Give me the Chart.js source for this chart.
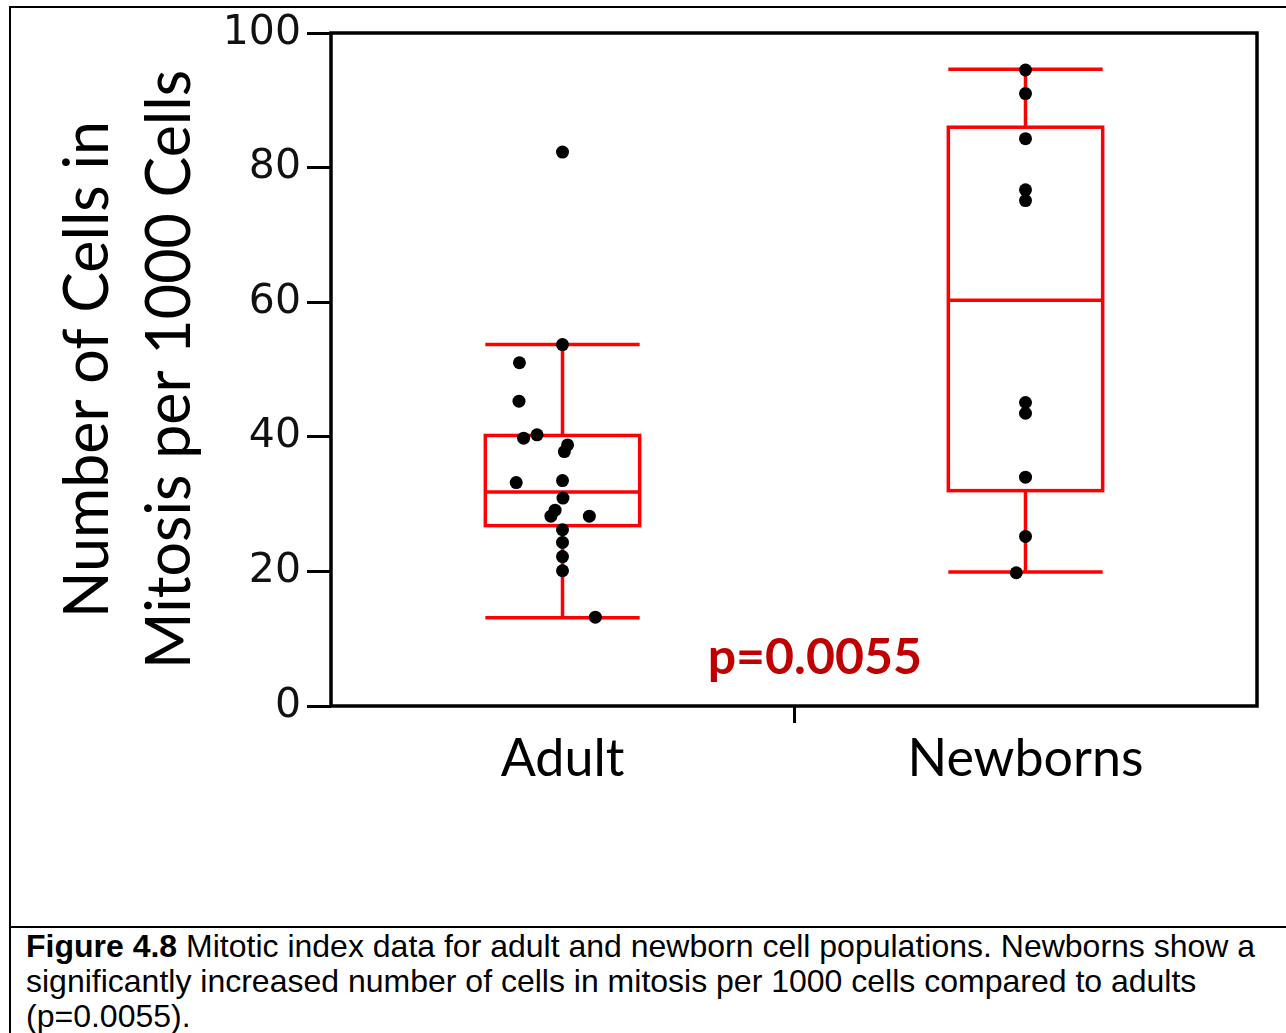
<!DOCTYPE html>
<html lang="en">
<head>
    <meta charset="UTF-8">
    <title>Mitotic index</title>
    <style>
        body {
            margin: 0;
            background-color: #ffffff;
        }

        .figure {
            position: absolute;
            left: 9px;
            top: 6px;
            width: 1277px;
            height: 1027px;
            border-left: 2px solid #000;
            border-top: 2px solid #000;
            overflow: hidden;
        }

        .chart-box {
            position: relative;
            width: 1275px;
            height: 918px;
        }

        .caption {
            border-top: 2px solid #000;
            padding: 1px 0 0 15px;
            font-family: 'Liberation Sans', Arial, sans-serif;
            font-size: 32px;
            line-height: 35px;
            color: #000;
            white-space: nowrap;
        }
    </style>
</head>
<body>
    <div class="figure">
        <div class="chart-box">
            <canvas id="mitosisChart"></canvas>
        </div>
        <div class="caption">
            <b>Figure 4.8</b> Mitotic index data for adult and newborn cell populations. Newborns show a<br>
            significantly increased number of cells in mitosis per 1000 cells compared to adults<br>
            (p=0.0055).
        </div>
    </div>

    <script src="https://cdn.jsdelivr.net/npm/chart.js"></script>
    <script>
        const categories = ['Adult', 'Newborns'];

        // cells in mitosis per 1000 cells, one value per sample
        const adultValues = [82.3, 53.7, 51.0, 45.3, 40.3, 39.8, 38.8, 37.8, 33.5, 33.2, 30.9, 29.1, 28.2, 28.2, 26.2, 24.3, 22.2, 20.1, 13.2];
        const adultJitter = [0, 0, -0.093, -0.094, -0.055, -0.084, 0.011, 0.004, 0, -0.1, 0.001, -0.016, -0.025, 0.058, 0, 0, 0, 0, 0.071];
        const newbornValues = [94.5, 91.0, 84.3, 76.7, 75.1, 45.1, 43.5, 34.0, 25.2, 19.8];
        const newbornJitter = [0, 0, 0, 0, 0, 0, 0, 0, 0, -0.02];

        // box summaries per category
        const boxMin = [13.1, 19.9];
        const boxQ1 = [26.8, 32.0];
        const boxMedian = [31.8, 60.3];
        const boxQ3 = [40.2, 86.0];
        const boxMax = [53.7, 94.6];

        const yTicks = [0, 20, 40, 60, 80, 100];
        const pValueLabel = 'p=0.0055';

        const BOX_HALF = 1 / 6;

        function toPoints(values, jitter, index) {
            return values.map((v, i) => ({ x: index + 0.5 + jitter[i], y: v }));
        }

        const boxPlotPlugin = {
            id: 'boxPlot',
            beforeDatasetsDraw(chart) {
                const { ctx, scales: { x, y } } = chart;
                ctx.save();
                ctx.strokeStyle = '#ff0000';
                ctx.lineWidth = 3.5;
                categories.forEach((c, i) => {
                    const cx = i + 0.5;
                    const left = x.getPixelForValue(cx - BOX_HALF);
                    const right = x.getPixelForValue(cx + BOX_HALF);
                    const mid = x.getPixelForValue(cx);
                    const py = v => y.getPixelForValue(v);

                    ctx.strokeRect(left, py(boxQ3[i]), right - left, py(boxQ1[i]) - py(boxQ3[i]));

                    ctx.beginPath();
                    // median
                    ctx.moveTo(left, py(boxMedian[i]));
                    ctx.lineTo(right, py(boxMedian[i]));
                    // whiskers
                    ctx.moveTo(mid, py(boxQ3[i]));
                    ctx.lineTo(mid, py(boxMax[i]));
                    ctx.moveTo(mid, py(boxQ1[i]));
                    ctx.lineTo(mid, py(boxMin[i]));
                    // caps
                    ctx.moveTo(left, py(boxMax[i]));
                    ctx.lineTo(right, py(boxMax[i]));
                    ctx.moveTo(left, py(boxMin[i]));
                    ctx.lineTo(right, py(boxMin[i]));
                    ctx.stroke();
                });
                ctx.restore();
            },
            afterDraw(chart) {
                const { ctx, chartArea, scales: { x, y } } = chart;
                ctx.save();
                ctx.strokeStyle = '#000';
                ctx.lineWidth = 3.5;
                ctx.strokeRect(chartArea.left, chartArea.top, chartArea.right - chartArea.left, chartArea.bottom - chartArea.top);

                ctx.fillStyle = '#c00000';
                ctx.font = 'bold 50px Lato, sans-serif';
                ctx.textAlign = 'center';
                ctx.textBaseline = 'alphabetic';
                ctx.fillText(pValueLabel, x.getPixelForValue(1.045), y.getPixelForValue(4.8));
                ctx.restore();
            }
        };

        const ctx = document.getElementById('mitosisChart').getContext('2d');

        new Chart(ctx, {
            type: 'scatter',
            data: {
                datasets: [
                    {
                        label: categories[0],
                        data: toPoints(adultValues, adultJitter, 0),
                        backgroundColor: '#000',
                        borderWidth: 0,
                        pointRadius: 6.5
                    },
                    {
                        label: categories[1],
                        data: toPoints(newbornValues, newbornJitter, 1),
                        backgroundColor: '#000',
                        borderWidth: 0,
                        pointRadius: 6.5
                    }
                ]
            },
            options: {
                responsive: true,
                maintainAspectRatio: false,
                animation: false,
                layout: {
                    padding: { top: 25, right: 29, bottom: 0, left: 0 }
                },
                plugins: {
                    legend: { display: false },
                    tooltip: { enabled: false }
                },
                scales: {
                    x: {
                        type: 'linear',
                        min: 0,
                        max: 2,
                        afterBuildTicks: scale => {
                            scale.ticks = [{ value: 0.5 }, { value: 1 }, { value: 1.5 }];
                        },
                        afterFit: scale => {
                            scale.height = 220;
                        },
                        border: { display: false },
                        grid: {
                            drawOnChartArea: false,
                            lineWidth: 3,
                            tickLength: 17,
                            tickColor: c => (c.tick && c.tick.value === 1 ? '#000' : 'rgba(0,0,0,0)')
                        },
                        ticks: {
                            autoSkip: false,
                            maxRotation: 0,
                            padding: 5,
                            color: '#000',
                            font: { family: 'Lato', size: 52 },
                            callback: v => {
                                const i = v - 0.5;
                                return Number.isInteger(i) ? categories[i] : '';
                            }
                        }
                    },
                    y: {
                        min: 0,
                        max: 100,
                        afterBuildTicks: scale => {
                            scale.ticks = yTicks.map(v => ({ value: v }));
                        },
                        afterFit: scale => {
                            scale.width = 320;
                            // let the top tick label overhang the padding
                            scale.paddingTop = 0;
                            scale.paddingBottom = 0;
                        },
                        border: { display: false },
                        grid: {
                            drawOnChartArea: false,
                            color: '#000',
                            lineWidth: 3,
                            tickLength: 24
                        },
                        ticks: {
                            padding: 6,
                            color: '#111',
                            font: { family: 'DejaVu Sans', size: 41 }
                        },
                        title: {
                            display: true,
                            text: ['Number of Cells in', 'Mitosis per 1000 Cells'],
                            color: '#000',
                            font: { family: 'Lato', size: 61, lineHeight: 1.35 },
                            padding: { top: 36, bottom: 0 }
                        }
                    }
                }
            },
            plugins: [boxPlotPlugin]
        });
    </script>
</body>
</html>
